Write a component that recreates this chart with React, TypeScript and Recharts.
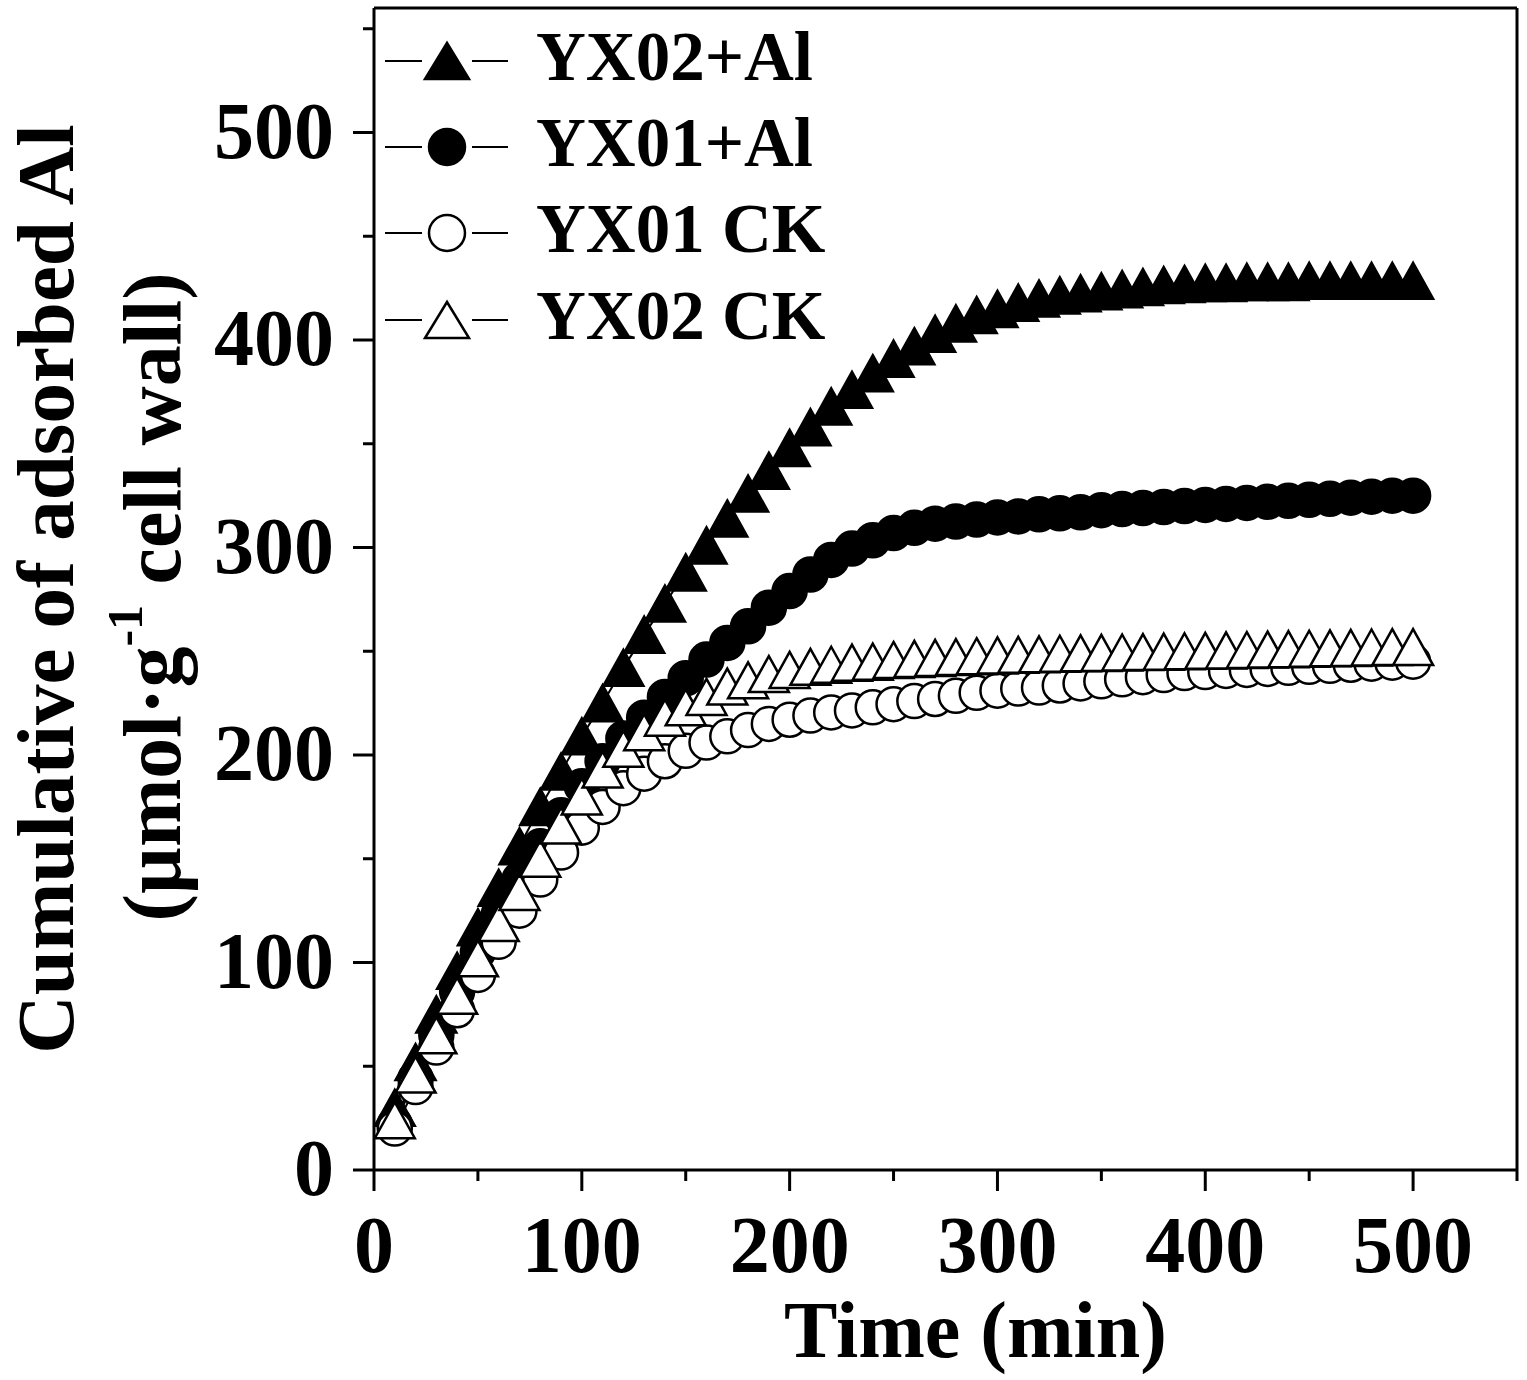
import { LineChart, Line, XAxis, YAxis, Legend, Label } from 'recharts';

const time = [10, 20, 30, 40, 50, 60, 70, 80, 90, 100, 110, 120, 130, 140, 150, 160, 170, 180, 190, 200,
  210, 220, 230, 240, 250, 260, 270, 280, 290, 300, 310, 320, 330, 340, 350, 360, 370, 380, 390, 400,
  410, 420, 430, 440, 450, 460, 470, 480, 490, 500];

const yx02Al = [30, 52, 75, 96, 117, 136, 156, 175, 192, 209, 225, 242, 258, 273, 288, 301, 314, 326, 337, 348,
  358, 368, 376, 384, 391, 397, 403, 408, 412, 415, 418, 420, 421.5, 422.5, 423.5, 424.5, 425.5, 426.5, 427, 427.5,
  427.5, 428, 428, 428, 428.5, 428.5, 428.5, 428.5, 428.5, 428.5];

const yx01Al = [22, 44, 65, 86, 105, 123, 140, 156, 171, 185, 197, 208, 218, 228, 237, 246, 254, 262, 271, 279,
  287, 294, 299.5, 303.5, 307, 309.5, 311.5, 312.5, 313.5, 314.5, 315, 316, 316.5, 317, 318, 318.5, 319, 319.5, 320, 320.5,
  321, 321.5, 322, 322.5, 323, 323.5, 324, 324.5, 325, 325];

const yx01CK = [20, 40, 59, 77, 94, 110, 125, 140, 153, 165, 175, 184, 191, 197, 202, 206, 209, 212, 215, 217,
  219, 220.5, 221.5, 223, 224.5, 226, 227, 228.5, 230, 231, 232, 232.5, 233.5, 234.5, 235.5, 236.5, 237.5, 238.5, 239.5, 240,
  240.5, 241, 241.5, 242, 242.5, 243, 243.5, 244, 244.5, 245];

const yx02CK = [24, 46, 65, 84, 102, 119, 134, 150, 166, 180, 193, 203, 211, 218, 223, 228, 233, 236, 239, 241,
  242.5, 243.5, 244.5, 245, 245.8, 246.3, 246.8, 247.2, 247.6, 248, 248.3, 248.5, 248.8, 249, 249.2, 249.4, 249.6, 249.8, 250, 250.2,
  250.4, 250.6, 250.8, 251, 251.2, 251.4, 251.6, 251.8, 252, 252];

const xTicks = [0, 50, 100, 150, 200, 250, 300, 350, 400, 450, 500, 550];
const yTicks = [0, 50, 100, 150, 200, 250, 300, 350, 400, 450, 500, 550];

const data = time.map((t, i) => ({
  t,
  yx02Al: yx02Al[i],
  yx01Al: yx01Al[i],
  yx01CK: yx01CK[i],
  yx02CK: yx02CK[i],
}));

const FONT = '"Liberation Serif", "Times New Roman", serif';

type Shape = 'triangle' | 'circle';

const Marker = ({ cx, cy, shape, filled, big }: { cx: number; cy: number; shape: Shape; filled: boolean; big?: boolean }) => {
  const fill = filled ? '#000' : '#fff';
  if (shape === 'circle') {
    return <circle cx={cx} cy={cy} r={big ? 18 : 17} fill={fill} stroke="#000" strokeWidth={2.5} />;
  }
  const hw = big ? 22 : 20;
  return (
    <polygon
      points={`${cx},${cy - 18} ${cx + hw},${cy + 18} ${cx - hw},${cy + 18}`}
      fill={fill}
      stroke="#000"
      strokeWidth={2.5}
    />
  );
};

const dotFor = (shape: Shape, filled: boolean) => (props: any) => {
  const { cx, cy, index } = props;
  if (cx == null || cy == null) return <g key={index} />;
  return <Marker key={index} cx={cx} cy={cy} shape={shape} filled={filled} />;
};

const series = [
  { key: 'yx02Al', name: 'YX02+Al', shape: 'triangle' as Shape, filled: true },
  { key: 'yx01Al', name: 'YX01+Al', shape: 'circle' as Shape, filled: true },
  { key: 'yx01CK', name: 'YX01 CK', shape: 'circle' as Shape, filled: false },
  { key: 'yx02CK', name: 'YX02 CK', shape: 'triangle' as Shape, filled: false },
];

const XTick = (props: any) => {
  const { x, y, payload } = props;
  const v = payload.value;
  const major = v % 100 === 0;
  return (
    <g>
      <line x1={x} y1={y} x2={x} y2={y + (major ? 21 : 11)} stroke="#000" strokeWidth={3} />
      {major && (
        <text x={x} y={y + 102} textAnchor="middle" fontFamily={FONT} fontWeight="bold" fontSize={80} fill="#000">
          {v}
        </text>
      )}
    </g>
  );
};

const YTick = (props: any) => {
  const { x, y, payload } = props;
  const v = payload.value;
  const major = v % 100 === 0;
  return (
    <g>
      <line x1={x} y1={y} x2={x - (major ? 21 : 11)} y2={y} stroke="#000" strokeWidth={3} />
      {major && (
        <text x={x - 40} y={y + 25} textAnchor="end" fontFamily={FONT} fontWeight="bold" fontSize={80} fill="#000">
          {v}
        </text>
      )}
    </g>
  );
};

const YTitle = (props: any) => {
  const vb = props.viewBox || { x: 314, y: 8, width: 60, height: 1162 };
  const axisX = vb.x + vb.width;
  const cy = vb.y + vb.height / 2;
  const x1 = axisX - 301;
  const x2 = axisX - 194;
  return (
    <g fontFamily={FONT} fontWeight="bold" fill="#000">
      <text x={x1} y={cy} transform={`rotate(-90 ${x1} ${cy})`} textAnchor="middle" fontSize={81}>
        Cumulative of adsorbed Al
      </text>
      <text x={x2} y={cy + 8} transform={`rotate(-90 ${x2} ${cy + 8})`} textAnchor="middle" fontSize={82}>
        (µmol·g
        <tspan dy={-38} fontSize={50}>-1</tspan>
        <tspan dy={38}>  cell wall)</tspan>
      </text>
    </g>
  );
};

const LegendBox = () => {
  const rows = [61, 147, 233, 320];
  return (
    <svg width={900} height={370} style={{ display: 'block', overflow: 'visible' }}>
      {series.map((s, i) => {
        const cy = rows[i];
        return (
          <g key={s.key}>
            <line x1={385} y1={cy} x2={422} y2={cy} stroke="#000" strokeWidth={2} />
            <line x1={472} y1={cy} x2={508} y2={cy} stroke="#000" strokeWidth={2} />
            <Marker cx={447} cy={cy} shape={s.shape} filled={s.filled} big />
            <text x={536} y={cy + 19} fontFamily={FONT} fontWeight="bold" fontSize={69} fill="#000">
              {s.name}
            </text>
          </g>
        );
      })}
    </svg>
  );
};

export default function App() {
  return (
    <div style={{ position: 'absolute', left: 0, top: 0, background: '#fff' }}>
      <LineChart
        width={1527}
        height={1380}
        data={data}
        margin={{ top: 6, right: 8, bottom: 180, left: 314 }}
      >
        <XAxis
          dataKey="t"
          type="number"
          domain={[0, 550]}
          ticks={xTicks}
          interval={0}
          height={30}
          tickSize={0}
          tickMargin={0}
          tickLine={false}
          tick={<XTick />}
          axisLine={{ stroke: '#000', strokeWidth: 3 }}
        >
          <Label
            value="Time (min)"
            position="bottom"
            offset={100}
            dx={30}
            style={{ fontFamily: FONT, fontWeight: 'bold', fontSize: 80, fill: '#000' }}
          />
        </XAxis>
        <XAxis
          xAxisId="top"
          orientation="top"
          type="number"
          domain={[0, 550]}
          height={2}
          tick={false}
          tickLine={false}
          axisLine={{ stroke: '#000', strokeWidth: 3 }}
        />
        <YAxis
          type="number"
          domain={[0, 560]}
          ticks={yTicks}
          interval={0}
          width={60}
          tickSize={0}
          tickMargin={0}
          tickLine={false}
          tick={<YTick />}
          axisLine={{ stroke: '#000', strokeWidth: 3 }}
          label={<YTitle />}
        />
        <YAxis
          yAxisId="right"
          orientation="right"
          type="number"
          domain={[0, 560]}
          width={2}
          tick={false}
          tickLine={false}
          axisLine={{ stroke: '#000', strokeWidth: 3 }}
        />
        <Legend
          layout="vertical"
          align="center"
          verticalAlign="middle"
          content={<LegendBox />}
          wrapperStyle={{ left: 0, top: 0, width: 900, height: 370 }}
        />
        {series.map((s) => (
          <Line
            key={s.key}
            dataKey={s.key}
            name={s.name}
            stroke="#000"
            strokeWidth={2}
            dot={dotFor(s.shape, s.filled)}
            activeDot={false}
            isAnimationActive={false}
          />
        ))}
      </LineChart>
    </div>
  );
}
